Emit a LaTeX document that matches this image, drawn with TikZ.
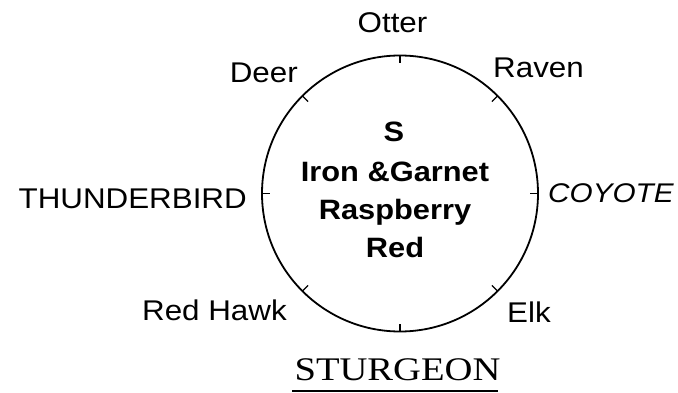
\documentclass[tikz,border=0pt]{standalone}
\usepackage{fontspec}
\usetikzlibrary{calc}
\newfontfamily\labfont{Liberation Sans}
\newfontfamily\serfont{Liberation Serif}
\begin{document}
\begin{tikzpicture}[x=1pt,y=-1pt,
  lab/.style={inner sep=0pt, xscale=1.1, font=\labfont\fontsize{28.5}{30}\selectfont},
  mid/.style={inner sep=0pt, xscale=1.1, anchor=base, font=\labfont\bfseries\fontsize{28}{30}\selectfont},
  ring/.style={line width=1.8pt},
  tick/.style={line width=1.3pt}]
\useasboundingbox (0,0) rectangle (678,393);
\fill[white] (0,0) rectangle (678,393);
\coordinate (c) at (400,193.5);
\draw[ring] (c) circle[radius=138];
\foreach \a in {0,45,...,315}{
  \draw[tick] ($(c)+(\a:138)$) -- ($(c)+(\a:130)$);
}
\node[lab, anchor=base] (otter) at (392.5,33) {Otter};
\node[lab, anchor=base east] (deer) at (298,83) {Deer};
\node[lab, anchor=base west] (raven) at (493,78) {Raven};
\node[lab, anchor=base east] (thunder) at (247,208) {THUNDERBIRD};
\node[lab, anchor=base west, font=\labfont\itshape\fontsize{27}{30}\selectfont] (coyote) at (548,203) {COYOTE};
\node[lab, anchor=base east] (hawk) at (287,320) {Red Hawk};
\node[lab, anchor=base west] (elk) at (507,322) {Elk};
\node[mid] (s) at (394,142) {S};
\node[mid] (iron) at (395,182) {Iron \&Garnet};
\node[mid] (rasp) at (395,220) {Raspberry};
\node[mid] (red) at (395,257) {Red};
\node[inner sep=0pt, anchor=base, xscale=1.17, font=\serfont\fontsize{33}{36}\selectfont] (sturg) at (397.5,380) {STURGEON};
\draw[line width=2pt] (292,391) -- (498,391);
\end{tikzpicture}
\end{document}
